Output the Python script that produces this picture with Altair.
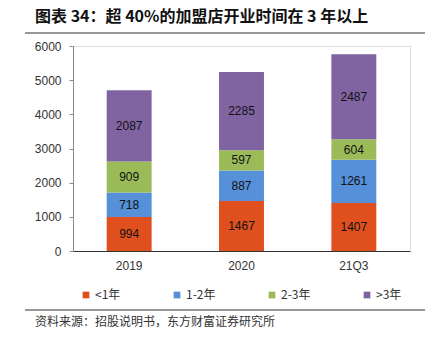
import altair as alt
import pandas as pd

years = ["2019", "2020", "21Q3"]
series = ["<1年", "1-2年", "2-3年", ">3年"]
colors = ["#E0501E", "#5590D8", "#9BBB59", "#8064A2"]
v_lt1 = [994, 1467, 1407]
v_1_2 = [718, 887, 1261]
v_2_3 = [909, 597, 604]
v_gt3 = [2087, 2285, 2487]
y_ticks = [0, 1000, 2000, 3000, 4000, 5000, 6000]

title_text = "图表 34：超 40%的加盟店开业时间在 3 年以上"
source_text = "资料来源：招股说明书，东方财富证券研究所"

rows = []
for si, (s, vals) in enumerate(zip(series, [v_lt1, v_1_2, v_2_3, v_gt3])):
    for y, v in zip(years, vals):
        rows.append({"year": y, "series": s, "idx": si, "value": v})
df = pd.DataFrame(rows)

CN = "Noto Sans CJK SC"
NUM = "Liberation Sans"

base = alt.Chart(df).transform_stack(
    stack="value", groupby=["year"], sort=[{"field": "idx", "order": "ascending"}], as_=["y0", "y1"]
).transform_calculate(mid="(datum.y0 + datum.y1) / 2")

xscale = alt.Scale(paddingInner=0.6, paddingOuter=0.3)
yscale = alt.Scale(domain=[0, 6000], nice=False)
xaxis = alt.Axis(labelAngle=0, ticks=False, domainColor="#333333", labelColor="#333333",
                 labelFont=NUM, labelFontSize=12, labelPadding=9)
yaxis = alt.Axis(values=y_ticks, grid=False, format="d", labelOverlap=False,
                 domainColor="#888888", tickColor="#888888", tickSize=4,
                 labelFont=NUM, labelFontSize=12, labelColor="#333333", labelPadding=8)

bars = base.mark_bar().encode(
    x=alt.X("year:N", sort=years, title=None, scale=xscale, axis=xaxis),
    y=alt.Y("y0:Q", title=None, scale=yscale, axis=yaxis),
    y2="y1:Q",
    color=alt.Color("series:N", sort=series, scale=alt.Scale(domain=series, range=colors),
                    legend=alt.Legend(orient="none", legendX=7, legendY=243, direction="horizontal",
                                      title=None, symbolType="square", symbolSize=45, symbolStrokeWidth=0,
                                      labelFont=CN, labelFontSize=12, labelColor="#333333",
                                      labelOffset=3, columnPadding=50, columns=4)),
)

labels = base.mark_text(font=NUM, fontSize=12, color="#111111").encode(
    x=alt.X("year:N", sort=years, title=None, scale=xscale, axis=xaxis),
    y=alt.Y("mid:Q", title=None, scale=yscale, axis=yaxis),
    text="value:Q",
)

dummy = alt.Chart(pd.DataFrame({"t": [title_text], "s": [source_text]}))
title = dummy.mark_text(font=CN, fontSize=16, fontWeight="bold", align="left", baseline="alphabetic",
                        color="#111111").encode(
    x=alt.value(-38), y=alt.value(-24), text="t:N")
source = dummy.mark_text(font=CN, fontSize=12, align="left", baseline="middle", color="#333333").encode(
    x=alt.value(-38), y=alt.value(276), text="s:N")
top_rule = dummy.mark_rule(color="#999999", strokeWidth=2).encode(
    x=alt.value(-48), x2=alt.value(352), y=alt.value(-13))
bot_rule = dummy.mark_rule(color="#333333", strokeWidth=1).encode(
    x=alt.value(-48), x2=alt.value(352), y=alt.value(264))

chart = alt.layer(bars, labels, title, source, top_rule, bot_rule).properties(
    width=337, height=205,
    autosize=alt.AutoSizeParams(type="none"),
    padding={"left": 73, "top": 46, "right": 15, "bottom": 88},
).configure_view(stroke=None).configure(background="white")

chart.save("out.html", embed_options={"renderer": "svg", "actions": False})
